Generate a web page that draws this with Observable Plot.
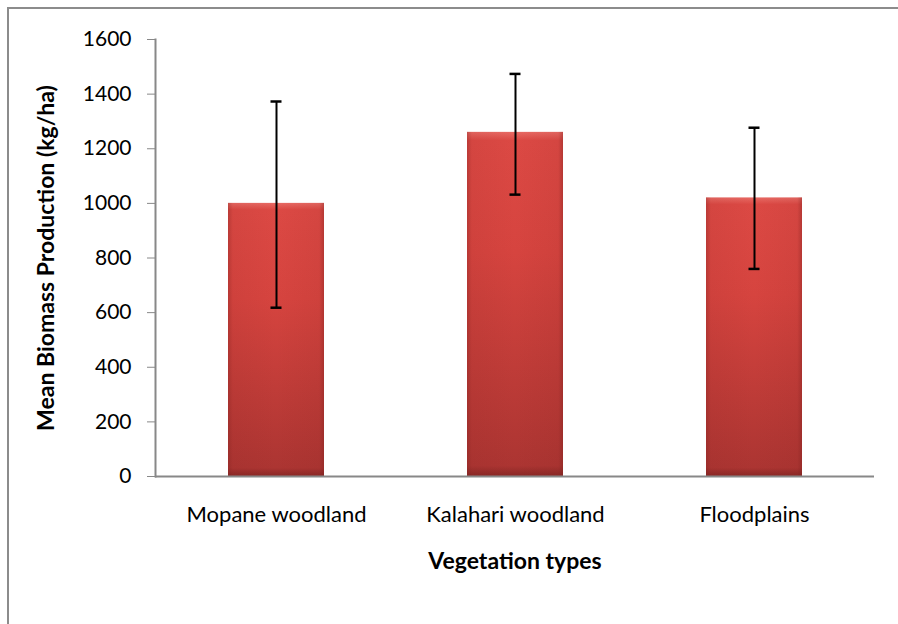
<!DOCTYPE html>
<html>
<head>
<meta charset="utf-8">
<script src="https://cdn.jsdelivr.net/npm/d3@7"></script>
<script src="https://cdn.jsdelivr.net/npm/@observablehq/plot@0.6"></script>
<style>
  html, body { margin: 0; padding: 0; background: #fff; }
  #wrap { position: relative; width: 898px; height: 624px; overflow: hidden; }
  #frame { position: absolute; left: 7px; top: 7px; width: 1000px; height: 1000px; border: 2px solid #8c8c8c; box-sizing: border-box; }
  #chart { position: absolute; left: 0; top: 0; }
</style>
</head>
<body>
<div id="wrap"><div id="frame"></div><div id="chart"></div></div>
<script>
const categories = ["Mopane woodland", "Kalahari woodland", "Floodplains"];
const means = [1000, 1260, 1020];
const errLow = [618, 1032, 760];
const errHigh = [1373, 1474, 1277];
const yTicks = [0, 200, 400, 600, 800, 1000, 1200, 1400, 1600];
const xTitle = "Vegetation types";
const yTitle = "Mean Biomass Production (kg/ha)";

const data = categories.map((c, i) => ({cat: c, mean: means[i], lo: errLow[i], hi: errHigh[i]}));
const font = "Lato, 'Open Sans', sans-serif";

const chart = Plot.plot({
  width: 898,
  height: 624,
  marginLeft: 155,
  marginRight: 24,
  marginTop: 39,
  marginBottom: 148,
  style: {fontFamily: font, fontSize: "21px", color: "#000", background: "transparent"},
  x: {domain: categories, paddingInner: 0.6, paddingOuter: 0.3, label: null},
  y: {domain: [0, 1600], label: null},
  marks: [
    Plot.barY(data, {x: "cat", y: "mean", fill: "url(#barGrad)"}),
    Plot.barY(data, {x: "cat", y: "mean", fill: "url(#edgeGrad)"}),
    Plot.ruleX(data, {x: "cat", y1: "lo", y2: "hi", stroke: "#000", strokeWidth: 2}),
    Plot.tickY(data, {x: "cat", y: "lo", stroke: "#000", strokeWidth: 2.5, insetLeft: 42.5, insetRight: 42.5}),
    Plot.tickY(data, {x: "cat", y: "hi", stroke: "#000", strokeWidth: 2.5, insetLeft: 42.5, insetRight: 42.5}),
    Plot.axisY({ticks: yTicks, tickFormat: d => String(d), tickSize: 8, tickPadding: 16, stroke: "#888", label: null, fontSize: 21, fill: "#000"}),
    Plot.axisX({tickSize: 0, tickPadding: 30, label: null, fontSize: 22, fill: "#000"}),
    Plot.frame({anchor: "left", stroke: "#888", strokeWidth: 2}),
    Plot.ruleY([0], {stroke: "#888", strokeWidth: 2}),
    Plot.text([yTitle], {frameAnchor: "left", dx: -109, rotate: -90, textAnchor: "middle", lineAnchor: "middle", fontWeight: "bold", fontSize: 23, fill: "#000"}),
    Plot.text([xTitle], {frameAnchor: "bottom", dy: 85, textAnchor: "middle", lineAnchor: "middle", fontWeight: "bold", fontSize: 23, fill: "#000"})
  ]
});

// gradient defs for bevelled red bars
const ns = "http://www.w3.org/2000/svg";
const defs = document.createElementNS(ns, "defs");
defs.innerHTML = `
  <linearGradient id="barGrad" x1="0" y1="0" x2="0" y2="1">
    <stop offset="0" stop-color="#e86a64"/>
    <stop offset="0.025" stop-color="#dc4944"/>
    <stop offset="0.35" stop-color="#d6443f"/>
    <stop offset="0.97" stop-color="#ac3532"/>
    <stop offset="1" stop-color="#8a2826"/>
  </linearGradient>
  <linearGradient id="edgeGrad" x1="0" y1="0" x2="1" y2="0">
    <stop offset="0" stop-color="#7a1f1d" stop-opacity="0.35"/>
    <stop offset="0.05" stop-color="#7a1f1d" stop-opacity="0.08"/>
    <stop offset="0.5" stop-color="#7a1f1d" stop-opacity="0"/>
    <stop offset="0.95" stop-color="#7a1f1d" stop-opacity="0.08"/>
    <stop offset="1" stop-color="#7a1f1d" stop-opacity="0.4"/>
  </linearGradient>`;
chart.insertBefore(defs, chart.firstChild);
document.getElementById("chart").appendChild(chart);
</script>
</body>
</html>
